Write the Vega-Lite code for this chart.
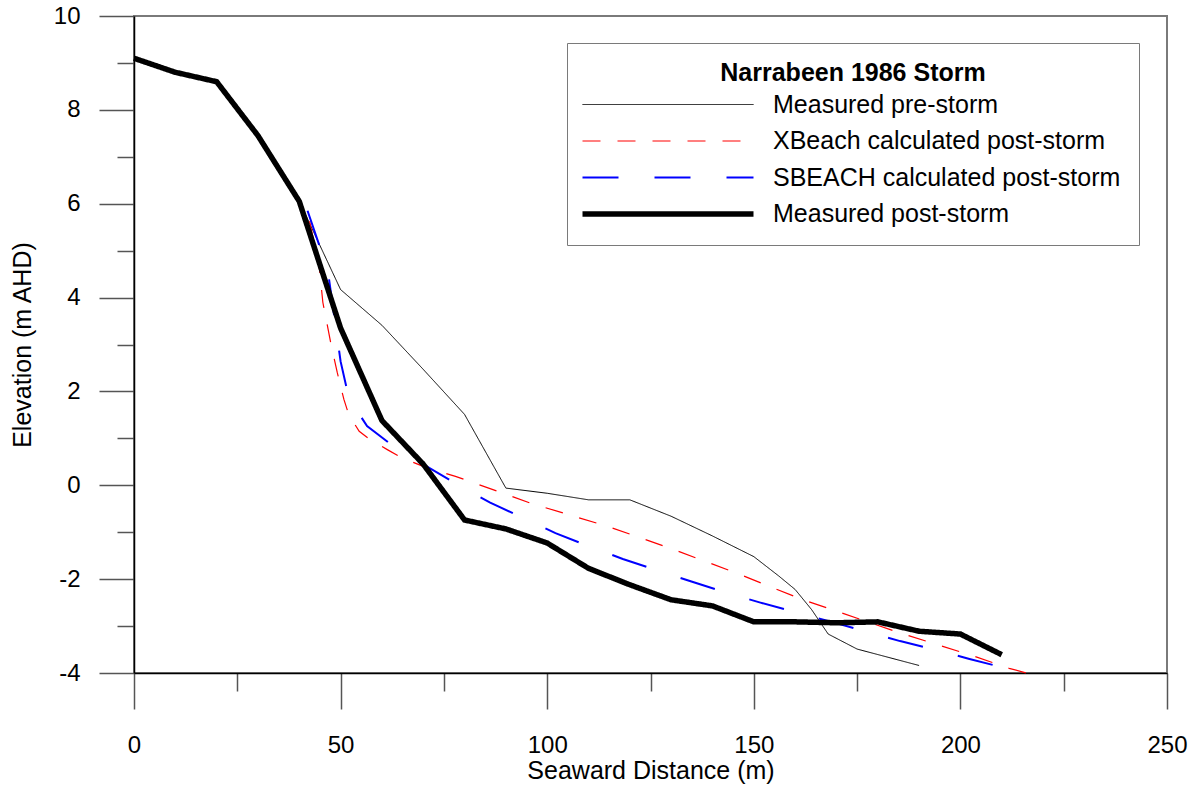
{
  "$schema": "https://vega.github.io/schema/vega-lite/v6.json",
  "autosize": "none",
  "width": 1033,
  "height": 657,
  "padding": {"left": 134, "top": 16, "right": 34, "bottom": 116},
  "background": "white",
  "config": {
    "view": {"stroke": "#7a7a7a", "strokeWidth": 2},
    "font": "Liberation Sans",
    "axis": {
      "grid": false,
      "domainColor": "#000000",
      "domainWidth": 1.5,
      "tickColor": "#555555",
      "tickWidth": 1.5,
      "labelFont": "Liberation Sans",
      "labelFontSize": 24,
      "labelColor": "#000000",
      "labelFlush": false,
      "labelOverlap": false,
      "titleFont": "Liberation Sans",
      "titleFontSize": 25,
      "titleFontWeight": "normal",
      "titleColor": "#000000"
    },
    "legend": {
      "orient": "none",
      "legendX": 433,
      "legendY": 27,
      "titleFont": "Liberation Sans",
      "titleFontSize": 25,
      "titleFontWeight": "bold",
      "titleColor": "#000000",
      "titleAnchor": "middle",
      "titleAlign": "center",
      "titleLimit": 800,
      "titlePadding": 6,
      "labelFont": "Liberation Sans",
      "labelFontSize": 25,
      "labelColor": "#000000",
      "labelLimit": 0,
      "labelOffset": 163,
      "symbolType": "M-3,0H31.2",
      "symbolSize": 100,
      "rowPadding": 10.5,
      "strokeColor": "#7a7a7a",
      "fillColor": "white",
      "padding": 18
    }
  },
  "data": {
    "values": [
      {"series": "Measured pre-storm", "x": 0, "y": 9.1},
      {"series": "Measured pre-storm", "x": 10, "y": 8.8},
      {"series": "Measured pre-storm", "x": 20, "y": 8.6},
      {"series": "Measured pre-storm", "x": 30, "y": 7.45},
      {"series": "Measured pre-storm", "x": 40, "y": 6.05},
      {"series": "Measured pre-storm", "x": 50, "y": 4.17},
      {"series": "Measured pre-storm", "x": 60, "y": 3.41},
      {"series": "Measured pre-storm", "x": 70, "y": 2.47},
      {"series": "Measured pre-storm", "x": 80, "y": 1.51},
      {"series": "Measured pre-storm", "x": 90, "y": -0.06},
      {"series": "Measured pre-storm", "x": 100, "y": -0.17},
      {"series": "Measured pre-storm", "x": 110, "y": -0.31},
      {"series": "Measured pre-storm", "x": 120, "y": -0.31},
      {"series": "Measured pre-storm", "x": 130, "y": -0.66},
      {"series": "Measured pre-storm", "x": 140, "y": -1.08},
      {"series": "Measured pre-storm", "x": 150, "y": -1.52},
      {"series": "Measured pre-storm", "x": 156, "y": -1.93},
      {"series": "Measured pre-storm", "x": 160, "y": -2.22},
      {"series": "Measured pre-storm", "x": 164, "y": -2.65},
      {"series": "Measured pre-storm", "x": 168, "y": -3.17},
      {"series": "Measured pre-storm", "x": 175, "y": -3.49},
      {"series": "Measured pre-storm", "x": 190, "y": -3.84},

      {"series": "XBeach calculated post-storm", "x": 42.5, "y": 5.63},
      {"series": "XBeach calculated post-storm", "x": 44.9, "y": 4.6},
      {"series": "XBeach calculated post-storm", "x": 45.7, "y": 3.9},
      {"series": "XBeach calculated post-storm", "x": 47.6, "y": 3.04},
      {"series": "XBeach calculated post-storm", "x": 49.2, "y": 2.4},
      {"series": "XBeach calculated post-storm", "x": 50.8, "y": 1.83},
      {"series": "XBeach calculated post-storm", "x": 52, "y": 1.5},
      {"series": "XBeach calculated post-storm", "x": 54.5, "y": 1.15},
      {"series": "XBeach calculated post-storm", "x": 57.2, "y": 0.97},
      {"series": "XBeach calculated post-storm", "x": 61.3, "y": 0.76},
      {"series": "XBeach calculated post-storm", "x": 64.5, "y": 0.6},
      {"series": "XBeach calculated post-storm", "x": 70.9, "y": 0.37},
      {"series": "XBeach calculated post-storm", "x": 77.8, "y": 0.19},
      {"series": "XBeach calculated post-storm", "x": 89.4, "y": -0.17},
      {"series": "XBeach calculated post-storm", "x": 95.9, "y": -0.38},
      {"series": "XBeach calculated post-storm", "x": 114.8, "y": -0.88},
      {"series": "XBeach calculated post-storm", "x": 129.7, "y": -1.34},
      {"series": "XBeach calculated post-storm", "x": 145.8, "y": -1.87},
      {"series": "XBeach calculated post-storm", "x": 153.9, "y": -2.16},
      {"series": "XBeach calculated post-storm", "x": 161.9, "y": -2.44},
      {"series": "XBeach calculated post-storm", "x": 170.3, "y": -2.69},
      {"series": "XBeach calculated post-storm", "x": 178.5, "y": -2.94},
      {"series": "XBeach calculated post-storm", "x": 186.9, "y": -3.19},
      {"series": "XBeach calculated post-storm", "x": 195.3, "y": -3.42},
      {"series": "XBeach calculated post-storm", "x": 203.6, "y": -3.65},
      {"series": "XBeach calculated post-storm", "x": 211.8, "y": -3.9},
      {"series": "XBeach calculated post-storm", "x": 216, "y": -4.0},

      {"series": "SBEACH calculated post-storm", "x": 42, "y": 5.85},
      {"series": "SBEACH calculated post-storm", "x": 45.6, "y": 4.92},
      {"series": "SBEACH calculated post-storm", "x": 47.2, "y": 4.39},
      {"series": "SBEACH calculated post-storm", "x": 48.8, "y": 3.39},
      {"series": "SBEACH calculated post-storm", "x": 50, "y": 2.64},
      {"series": "SBEACH calculated post-storm", "x": 52, "y": 1.86},
      {"series": "SBEACH calculated post-storm", "x": 56.4, "y": 1.26},
      {"series": "SBEACH calculated post-storm", "x": 63.7, "y": 0.77},
      {"series": "SBEACH calculated post-storm", "x": 70.1, "y": 0.44},
      {"series": "SBEACH calculated post-storm", "x": 79, "y": -0.02},
      {"series": "SBEACH calculated post-storm", "x": 86.2, "y": -0.37},
      {"series": "SBEACH calculated post-storm", "x": 94.3, "y": -0.7},
      {"series": "SBEACH calculated post-storm", "x": 102, "y": -1.02},
      {"series": "SBEACH calculated post-storm", "x": 110.4, "y": -1.31},
      {"series": "SBEACH calculated post-storm", "x": 118.3, "y": -1.57},
      {"series": "SBEACH calculated post-storm", "x": 126.9, "y": -1.82},
      {"series": "SBEACH calculated post-storm", "x": 134.9, "y": -2.05},
      {"series": "SBEACH calculated post-storm", "x": 143.4, "y": -2.29},
      {"series": "SBEACH calculated post-storm", "x": 151.6, "y": -2.5},
      {"series": "SBEACH calculated post-storm", "x": 160.3, "y": -2.71},
      {"series": "SBEACH calculated post-storm", "x": 168.4, "y": -2.9},
      {"series": "SBEACH calculated post-storm", "x": 177.2, "y": -3.12},
      {"series": "SBEACH calculated post-storm", "x": 185.4, "y": -3.32},
      {"series": "SBEACH calculated post-storm", "x": 194.1, "y": -3.51},
      {"series": "SBEACH calculated post-storm", "x": 202.2, "y": -3.7},
      {"series": "SBEACH calculated post-storm", "x": 211, "y": -3.9},
      {"series": "SBEACH calculated post-storm", "x": 216, "y": -4.0},

      {"series": "Measured post-storm", "x": 0, "y": 9.1},
      {"series": "Measured post-storm", "x": 10, "y": 8.8},
      {"series": "Measured post-storm", "x": 20, "y": 8.6},
      {"series": "Measured post-storm", "x": 30, "y": 7.45},
      {"series": "Measured post-storm", "x": 40, "y": 6.05},
      {"series": "Measured post-storm", "x": 50, "y": 3.35},
      {"series": "Measured post-storm", "x": 60, "y": 1.38},
      {"series": "Measured post-storm", "x": 70, "y": 0.45},
      {"series": "Measured post-storm", "x": 80, "y": -0.74},
      {"series": "Measured post-storm", "x": 90, "y": -0.93},
      {"series": "Measured post-storm", "x": 100, "y": -1.23},
      {"series": "Measured post-storm", "x": 110, "y": -1.77},
      {"series": "Measured post-storm", "x": 120, "y": -2.12},
      {"series": "Measured post-storm", "x": 130, "y": -2.44},
      {"series": "Measured post-storm", "x": 140, "y": -2.57},
      {"series": "Measured post-storm", "x": 150, "y": -2.91},
      {"series": "Measured post-storm", "x": 160, "y": -2.91},
      {"series": "Measured post-storm", "x": 170, "y": -2.93},
      {"series": "Measured post-storm", "x": 180, "y": -2.91},
      {"series": "Measured post-storm", "x": 190, "y": -3.11},
      {"series": "Measured post-storm", "x": 200, "y": -3.17},
      {"series": "Measured post-storm", "x": 210, "y": -3.61}
    ]
  },
  "mark": {"type": "line", "strokeCap": "butt", "strokeJoin": "miter"},
  "encoding": {
    "x": {
      "field": "x",
      "type": "quantitative",
      "scale": {"domain": [0, 250], "nice": false, "zero": false},
      "axis": {
        "title": "Seaward Distance (m)",
        "values": [0, 25, 50, 75, 100, 125, 150, 175, 200, 225, 250],
        "labelExpr": "datum.value % 50 === 0 ? '' + datum.value : ''",
        "tickSize": {"condition": {"test": "datum.value % 50 === 0", "value": 36}, "value": 18},
        "labelPadding": 24,
        "titlePadding": 1
      }
    },
    "y": {
      "field": "y",
      "type": "quantitative",
      "scale": {"domain": [-4, 10], "nice": false, "zero": false},
      "axis": {
        "title": "Elevation (m AHD)",
        "values": [-4, -3, -2, -1, 0, 1, 2, 3, 4, 5, 6, 7, 8, 9, 10],
        "labelExpr": "datum.value % 2 === 0 ? '' + datum.value : ''",
        "tickSize": {"condition": {"test": "datum.value % 2 === 0", "value": 35}, "value": 17},
        "labelPadding": 19,
        "titlePadding": 18
      }
    },
    "color": {
      "field": "series",
      "type": "nominal",
      "scale": {
        "domain": ["Measured pre-storm", "XBeach calculated post-storm", "SBEACH calculated post-storm", "Measured post-storm"],
        "range": ["#000000", "#ff0000", "#0000ff", "#000000"]
      },
      "legend": {"title": "Narrabeen 1986 Storm"}
    },
    "strokeDash": {
      "field": "series",
      "type": "nominal",
      "scale": {
        "domain": ["Measured pre-storm", "XBeach calculated post-storm", "SBEACH calculated post-storm", "Measured post-storm"],
        "range": [[1, 0], [18, 17], [36, 36], [1, 0]]
      },
      "legend": {"title": "Narrabeen 1986 Storm"}
    },
    "strokeWidth": {
      "field": "series",
      "type": "ordinal",
      "scale": {
        "type": "ordinal",
        "domain": ["Measured pre-storm", "XBeach calculated post-storm", "SBEACH calculated post-storm", "Measured post-storm"],
        "range": [1, 1.2, 2, 5.5]
      },
      "legend": {"title": "Narrabeen 1986 Storm"}
    },
    "order": {"field": "x", "type": "quantitative"}
  }
}
